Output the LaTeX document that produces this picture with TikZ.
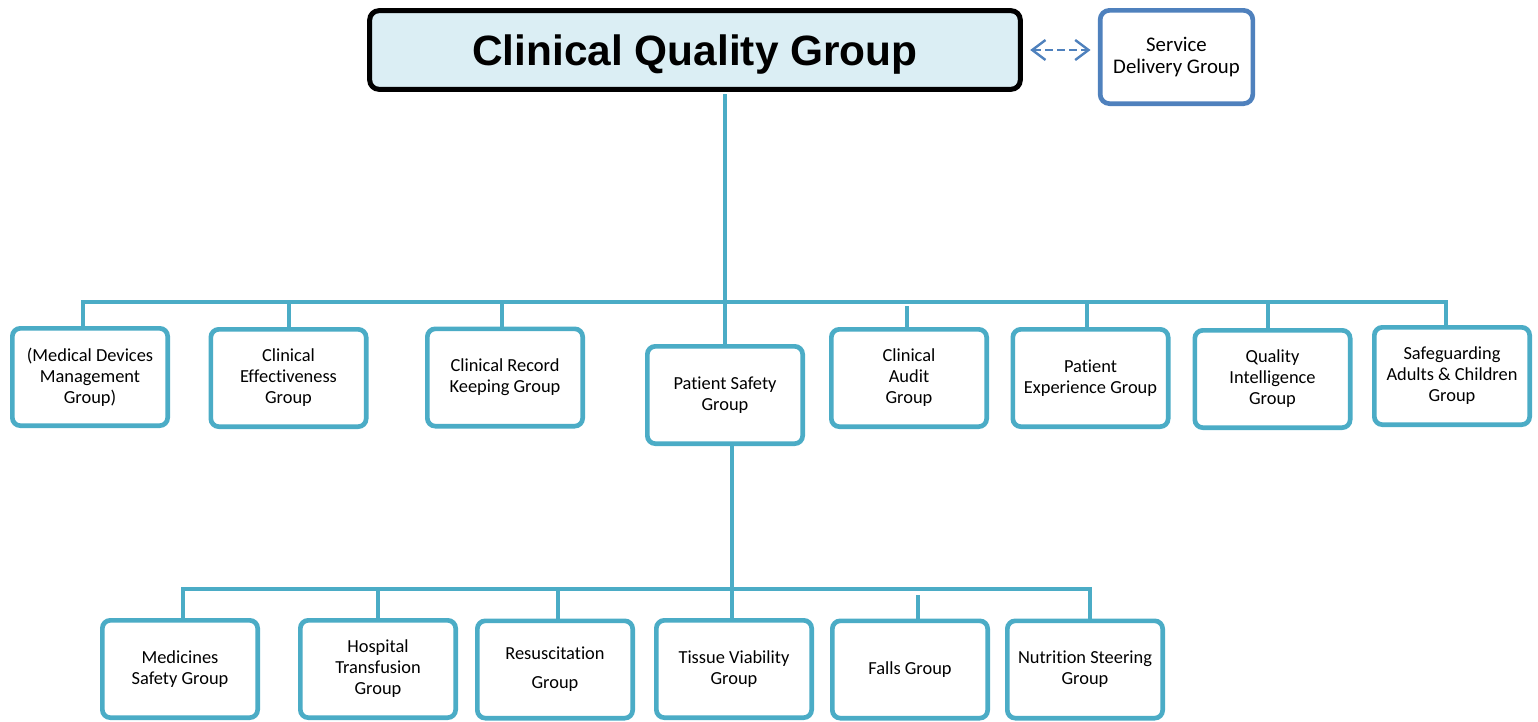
\documentclass[tikz,border=0pt]{standalone}
\usepackage{fontspec}
\setmainfont{Carlito}[Ligatures=NoCommon]
\newfontfamily\titlefont{Liberation Sans}
\usetikzlibrary{arrows.meta}

\definecolor{grpline}{RGB}{75,172,198}
\definecolor{sdgblue}{RGB}{79,129,189}
\definecolor{titlefill}{RGB}{219,238,244}

\tikzset{every picture/.style={line width=0.75pt},
  grpbox/.style={draw=grpline, line width=3.5pt, rounded corners=6pt, fill=white,
    minimum width=116.5pt, minimum height=73pt, inner sep=0pt, align=center,
    font=\fontsize{13.8pt}{15.8pt}\selectfont},
  grplink/.style={draw=grpline, line width=3pt},
  sdglink/.style={draw=sdgblue, line width=1.8pt, dash pattern=on 6pt off 3pt,
    {Straight Barb[length=10pt,width=15pt]}-{Straight Barb[length=10pt,width=15pt]},
    shorten <=5.5pt, shorten >=5.5pt}
}

\begin{document}
\begin{tikzpicture}[x=0.75pt,y=0.75pt,yscale=-1]
\useasboundingbox (0,0) rectangle (1538,721);
\clip (0,0) rectangle (1538,721);

%Shape: Title
\node (cqg) [draw=black, line width=3.75pt, rounded corners=7pt, fill=titlefill,
  minimum width=488pt, minimum height=59pt, inner sep=0pt, text depth=0pt,
  font=\titlefont\bfseries\fontsize{31.8pt}{36pt}\selectfont] at (695,50) {Clinical Quality Group};
%Shape: Service Delivery
\node (sdg) [draw=sdgblue, line width=3.5pt, rounded corners=7pt, fill=white,
  minimum width=114.5pt, minimum height=70pt, inner sep=0pt, align=center,
  font=\fontsize{15.6pt}{16.8pt}\selectfont] at (1176.5,57) {Service\\Delivery Group};

%Shapes: first row
\node (mdm) [grpbox] at (90,377) {(Medical Devices\\Management\\Group)};
\node (ceg) [grpbox] at (288.5,378) {Clinical\\Effectiveness\\Group};
\node (crk) [grpbox] at (505,377.5) {Clinical Record\\Keeping Group};
\node (psg) [grpbox] at (725,395) {Patient Safety\\Group};
\node (cag) [grpbox] at (909,378) {Clinical\\Audit\\Group};
\node (peg) [grpbox] at (1090.5,378) {Patient\\Experience Group};
\node (qig) [grpbox] at (1272.5,379) {Quality\\Intelligence\\Group};
\node (sac) [grpbox] at (1452,376) {Safeguarding\\Adults \& Children\\Group};

%Shapes: second row
\node (msg) [grpbox] at (180,669) {Medicines\\Safety Group};
\node (htg) [grpbox] at (378,669) {Hospital\\Transfusion\\Group};
\node (rsg) [grpbox] at (555,669.5) {Resuscitation\\[6pt]Group};
\node (tvg) [grpbox] at (734,669) {Tissue Viability\\Group};
\node (fag) [grpbox] at (910,669.5) {Falls Group};
\node (nsg) [grpbox] at (1085,669.5) {Nutrition Steering\\Group};

%Drop points on the buses
\coordinate (dMdm) at (83,302);
\coordinate (dCeg) at (289,302);
\coordinate (dCrk) at (502,302);
\coordinate (dCag) at (907,306);
\coordinate (dPeg) at (1087,302);
\coordinate (dQig) at (1268,302);
\coordinate (dSac) at (1446,302);
\coordinate (dMsg) at (183,589);
\coordinate (dHtg) at (378,589);
\coordinate (dRsg) at (558,589);
\coordinate (dTvg) at (732,589);
\coordinate (dFag) at (918,595);
\coordinate (dNsg) at (1090,589);

%Straight Lines: top trunk and first bus
\draw [grplink, shorten <=1.9pt] (cqg.south -| psg.north) -- (psg.north);
\draw [grplink] (dMdm |- mdm.north) -- (dMdm) -- (dSac) -- (dSac |- sac.north);
\draw [grplink] (dCeg) -- (dCeg |- ceg.north);
\draw [grplink] (dCrk) -- (dCrk |- crk.north);
\draw [grplink] (dCag) -- (dCag |- cag.north);
\draw [grplink] (dPeg) -- (dPeg |- peg.north);
\draw [grplink] (dQig) -- (dQig |- qig.north);

%Straight Lines: lower trunk and second bus
\draw [grplink] (dTvg |- psg.south) -- (dTvg |- tvg.north);
\draw [grplink] (dMsg |- msg.north) -- (dMsg) -- (dNsg) -- (dNsg |- nsg.north);
\draw [grplink] (dHtg) -- (dHtg |- htg.north);
\draw [grplink] (dRsg) -- (dRsg |- rsg.north);
\draw [grplink] (dFag) -- (dFag |- fag.north);

%Dashed link to Service Delivery
\draw [sdglink] (cqg.east) -- (cqg.east -| sdg.west);

\end{tikzpicture}
\end{document}
